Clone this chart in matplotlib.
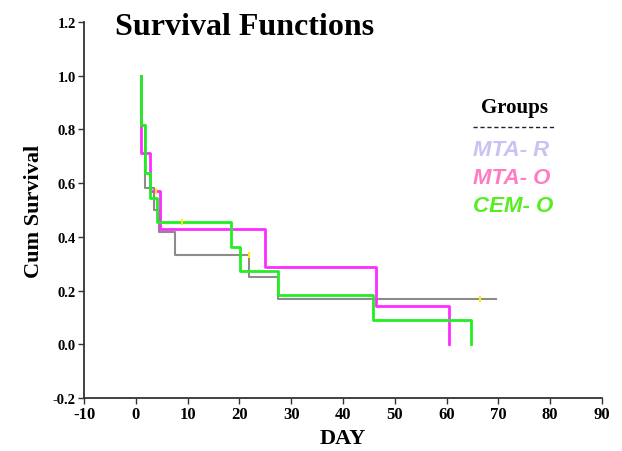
import numpy as np
import matplotlib
matplotlib.use("Agg")
import matplotlib.pyplot as plt
from matplotlib.lines import Line2D

######### data (days, cumulative survival)
mta_r_days = [1.1, 1.1, 1.7, 3.5, 4.5, 7.5, 21.9, 27.4, 69.6]
mta_r_surv = [1.0, 0.818, 0.583, 0.5, 0.417, 0.333, 0.25, 0.167, 0.167]

mta_o_days = [1.1, 1.1, 2.8, 4.6, 24.9, 46.3, 60.5]
mta_o_surv = [1.0, 0.714, 0.571, 0.429, 0.286, 0.143, 0.0]

cem_o_days = [1.1, 1.1, 1.7, 2.8, 4.1, 18.4, 20.2, 27.4, 45.8, 64.8]
cem_o_surv = [1.0, 0.818, 0.636, 0.545, 0.455, 0.364, 0.273, 0.182, 0.091, 0.0]

# censored marks
cens_days = [9.0, 21.9, 66.5, 3.9]
cens_surv = [0.455, 0.333, 0.167, 0.571]

groups = ["MTA- R", "MTA- O", "CEM- O"]
xticks = list(range(-10, 100, 10))
yticks = [-0.2, 0.0, 0.2, 0.4, 0.6, 0.8, 1.0, 1.2]

serif = "Liberation Serif"

fig = plt.figure(figsize=(6.22, 4.52), dpi=100)
ax = fig.add_axes([84/622, 1-399/452, (602-84)/622, (399-23)/452])

ax.step(mta_r_days, mta_r_surv, where='post', color='#8c8c8c', lw=1.5)
ax.step(mta_o_days, mta_o_surv, where='post', color='#ff2cff', lw=2.0)
ax.step(cem_o_days, cem_o_surv, where='post', color='#22ee22', lw=2.0)
ax.plot(cens_days, cens_surv, ls='none', marker='|', ms=4, mew=1.5, color='#ffee00')

ax.set_xlim(-10, 90)
ax.set_ylim(-0.2, 1.2)
ax.set_xticks(xticks)
ax.set_yticks(yticks)
ax.set_xticklabels([str(v) for v in xticks], fontfamily=serif, fontweight='bold', fontsize=12)
ax.set_yticklabels(['%.1f' % v for v in yticks], fontfamily=serif, fontweight='bold', fontsize=10.5)
for s in ['top', 'right']:
    ax.spines[s].set_visible(False)
for s in ['left', 'bottom']:
    ax.spines[s].set_color('#333333')
    ax.spines[s].set_linewidth(1.3)
ax.tick_params(axis='both', length=4, width=1, color='#333333', pad=2)

ax.set_xlabel('DAY', fontfamily=serif, fontweight='bold', fontsize=16, labelpad=4)
ax.set_ylabel('Cum Survival', fontfamily=serif, fontweight='bold', fontsize=16, labelpad=6)

fig.text(115/622, 1-35/452, 'Survival Functions', fontfamily=serif, fontweight='bold',
         fontsize=23, ha='left', va='baseline')

# legend
fig.text(514/622, 1-108/452, 'Groups', fontfamily=serif, fontweight='bold', fontsize=15,
         ha='center', va='center')
fig.add_artist(Line2D([473/622, 556/622], [1-128/452, 1-128/452], color='#222222',
                      lw=1.0, ls=(0, (3, 2))))
leg_colors = ['#c9c2f2', '#ff7cc4', '#55ee22']
leg_y = [151, 179, 207]
for g, c, yy in zip(groups, leg_colors, leg_y):
    fig.text(473/622, 1-yy/452, g, fontfamily='Liberation Sans', fontweight='bold',
             fontstyle='italic', fontsize=16, color=c, ha='left', va='center')

plt.savefig('out.png', dpi=100)
